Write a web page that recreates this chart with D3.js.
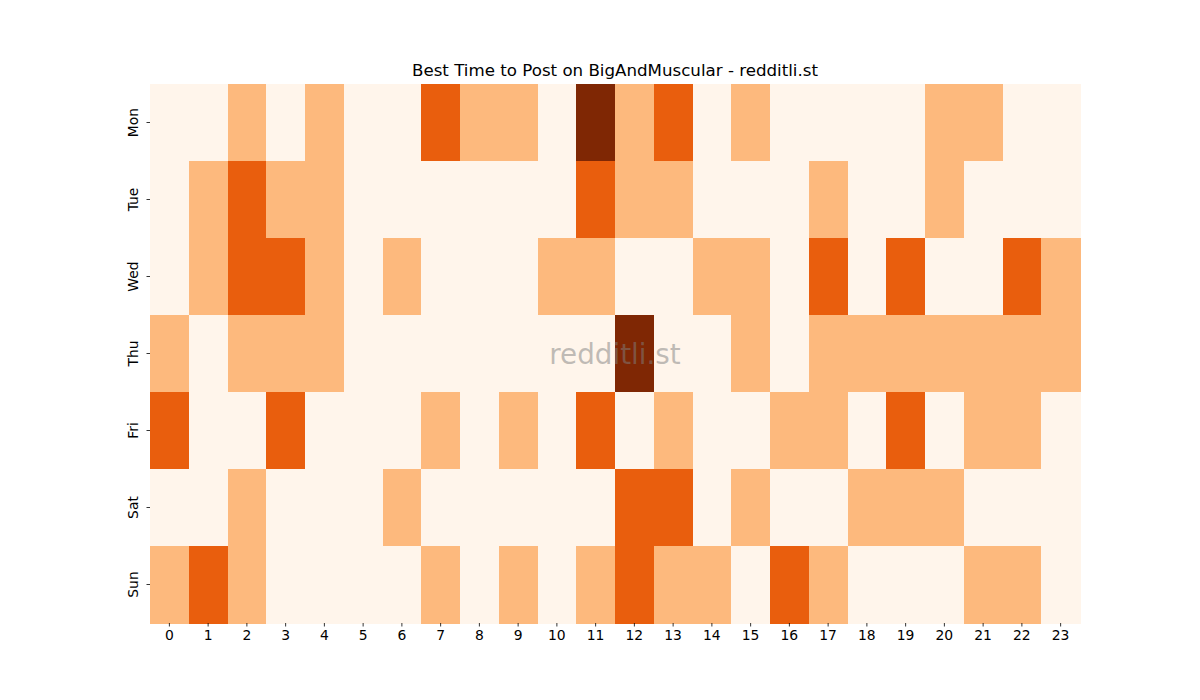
<!DOCTYPE html>
<html>
<head>
<meta charset="utf-8">
<script src="https://cdn.jsdelivr.net/npm/d3@7"></script>
<style>
  body { margin: 0; background: #fff; }
  svg { display: block; font-family: "DejaVu Sans", sans-serif; }
</style>
</head>
<body>
<svg id="chart" width="1200" height="700"></svg>
<script>
const days = ["Mon", "Tue", "Wed", "Thu", "Fri", "Sat", "Sun"];
const hours = ["0","1","2","3","4","5","6","7","8","9","10","11","12","13","14","15","16","17","18","19","20","21","22","23"];
const mon = [0,0,1,0,1,0,0,2,1,1,0,3,1,2,0,1,0,0,0,0,1,1,0,0];
const tue = [0,1,2,1,1,0,0,0,0,0,0,2,1,1,0,0,0,1,0,0,1,0,0,0];
const wed = [0,1,2,2,1,0,1,0,0,0,1,1,0,0,1,1,0,2,0,2,0,0,2,1];
const thu = [1,0,1,1,1,0,0,0,0,0,0,0,3,0,0,1,0,1,1,1,1,1,1,1];
const fri = [2,0,0,2,0,0,0,1,0,1,0,2,0,1,0,0,1,1,0,2,0,1,1,0];
const sat = [0,0,1,0,0,0,1,0,0,0,0,0,2,2,0,1,0,0,1,1,1,0,0,0];
const sun = [1,2,1,0,0,0,0,1,0,1,0,1,2,1,1,0,2,1,0,0,0,1,1,0];
const values = [mon, tue, wed, thu, fri, sat, sun];
const titleText = "Best Time to Post on BigAndMuscular - redditli.st";
const watermark = "redditli.st";

const svg = d3.select("#chart");
const margin = {left: 150, top: 84, right: 120, bottom: 77};
const W = 1200 - margin.left - margin.right;
const H = 700 - margin.top - margin.bottom;

const x = d3.scaleBand().domain(hours).range([0, W]).padding(0);
const y = d3.scaleBand().domain(days).range([0, H]).padding(0);
const color = d3.scaleLinear()
  .domain([0, 1, 2, 3])
  .range(["#fff5eb", "#fdb97d", "#e95e0d", "#7f2704"]);

const g = svg.append("g").attr("transform", `translate(${margin.left},${margin.top})`);

const cells = [];
days.forEach((d, i) => hours.forEach((h, j) => cells.push({day: d, hour: h, v: values[i][j]})));

g.selectAll("rect.cell").data(cells).join("rect")
  .attr("class", "cell")
  .attr("x", d => x(d.hour))
  .attr("y", d => y(d.day))
  .attr("width", x.bandwidth() + 0.5)
  .attr("height", y.bandwidth() + 0.5)
  .attr("fill", d => color(d.v))
  .attr("shape-rendering", "crispEdges");

// x axis
const xAxis = g.append("g").attr("transform", `translate(0,${H})`)
  .call(d3.axisBottom(x).tickSize(3.5).tickPadding(4));
xAxis.select(".domain").remove();
xAxis.selectAll("text").attr("font-size", 13.9).attr("fill", "#000").attr("font-family", "DejaVu Sans");
xAxis.selectAll("line").attr("stroke", "#000").attr("stroke-width", 0.8);

// y axis
const yAxis = g.append("g")
  .call(d3.axisLeft(y).tickSize(3.5).tickPadding(5));
yAxis.select(".domain").remove();
yAxis.selectAll("line").attr("stroke", "#000").attr("stroke-width", 0.8);
yAxis.selectAll("text")
  .attr("font-size", 13.9).attr("fill", "#000").attr("font-family", "DejaVu Sans")
  .attr("x", null).attr("dy", null)
  .attr("text-anchor", "middle")
  .attr("transform", "translate(-12,0) rotate(-90)")
  .attr("dominant-baseline", "auto")
  .attr("y", 0);

// title
svg.append("text")
  .attr("x", margin.left + W / 2)
  .attr("y", 76)
  .attr("text-anchor", "middle")
  .attr("font-size", 16.67)
  .attr("fill", "#000")
  .text(titleText);

// watermark
svg.append("text")
  .attr("x", margin.left + W / 2)
  .attr("y", margin.top + H / 2 + 10)
  .attr("text-anchor", "middle")
  .attr("font-size", 27.8)
  .attr("fill", "#808080")
  .attr("fill-opacity", 0.5)
  .text(watermark);
</script>
</body>
</html>
